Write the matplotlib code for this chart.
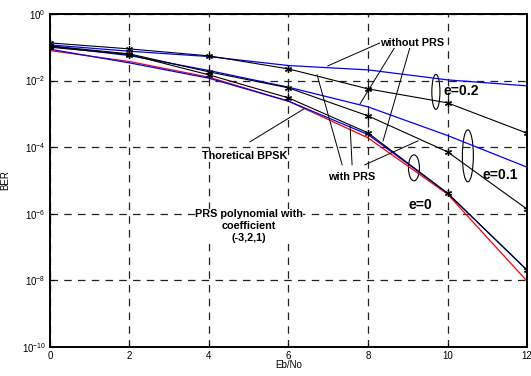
import matplotlib.pyplot as plt
from matplotlib.patches import Ellipse
import numpy as np

plt.rcParams['font.family'] = ['Liberation Sans', 'DejaVu Sans']
plt.rcParams['mathtext.fontset'] = 'custom'
plt.rcParams['mathtext.rm'] = 'Liberation Sans'
plt.rcParams['mathtext.default'] = 'regular'

# Eb/No (dB)
ebno = [0, 2, 4, 6, 8, 10, 12]

# log10(BER)
theory_bpsk = [-1.10, -1.43, -1.90, -2.62, -3.72, -5.41, -8.02]
no_prs_e0 = [-1.06, -1.47, -1.93, -2.62, -3.62, -5.38, -7.69]
no_prs_e01 = [-0.97, -1.25, -1.70, -2.20, -2.79, -3.65, -4.60]
no_prs_e02 = [-0.93, -1.12, -1.28, -1.55, -1.68, -1.98, -2.16]
prs_e0 = [-1.00, -1.22, -1.83, -2.52, -3.57, -5.38, -7.69]
prs_e01 = [-0.96, -1.20, -1.74, -2.22, -3.06, -4.14, -5.86]
prs_e02 = [-0.87, -1.05, -1.26, -1.65, -2.25, -2.67, -3.58]

fig = plt.figure(figsize=(5.31, 3.76), dpi=100)
ax = fig.add_axes([0.094, 0.077, 0.8985, 0.886])

def ber(v):
    return 10.0 ** np.array(v)

ax.plot(ebno, ber(theory_bpsk), color='red', lw=0.9)
for s in [no_prs_e0, no_prs_e01, no_prs_e02]:
    ax.plot(ebno, ber(s), color='blue', lw=0.9)
for s in [prs_e0, prs_e01, prs_e02]:
    ax.plot(ebno, ber(s), color='black', lw=0.8, marker=(6, 2, 0), ms=5, mew=0.9)

ax.set_yscale('log')
ax.set_xlim(0, 12)
ax.set_ylim(1e-10, 1)
ax.set_xticks(ebno)
yt = [1e-10, 1e-8, 1e-6, 1e-4, 1e-2, 1]
ax.set_yticks(yt)
ax.set_yticklabels([r'$10^{%d}$' % int(np.log10(v)) for v in yt])
ax.yaxis.set_minor_locator(plt.NullLocator())
ax.tick_params(direction='in', length=3, labelsize=7, pad=3)
ax.grid(True, color='#222222', linestyle=(0, (6, 5)), lw=0.9)
for sp in ax.spines.values():
    sp.set_linewidth(1.4)
ax.set_xlabel('Eb/No', fontsize=7, labelpad=-1)
ax.set_ylabel('BER', fontsize=7, labelpad=8)

# annotations
box = dict(facecolor='white', edgecolor='none', pad=0.3)
bold = dict(fontsize=7.8, fontweight='bold', ha='center', va='center')
ax.text(9.11, 10 ** -0.87, 'without PRS', bbox=box, **bold)
for (x0, y0), (x1, y1) in [((8.30, -0.87), (6.99, -1.56)),
                           ((8.68, -0.99), (7.80, -2.70)),
                           ((9.06, -0.99), (8.38, -3.81))]:
    ax.plot([x0, x1], [10 ** y0, 10 ** y1], color='black', lw=0.7)

ax.text(7.60, 10 ** -4.89, 'with PRS', bbox=box, **bold)
for (x0, y0), (x1, y1) in [((7.35, -4.53), (6.72, -1.83)),
                           ((7.60, -4.53), (7.55, -3.36)),
                           ((7.92, -4.53), (9.26, -3.81))]:
    ax.plot([x0, x1], [10 ** y0, 10 ** y1], color='black', lw=0.7)

ax.text(4.91, 10 ** -4.27, 'Thoretical BPSK', bbox=box, **bold)
ax.plot([5.03, 6.39], [10 ** -3.84, 10 ** -2.85], color='black', lw=0.7)

ax.text(5.01, 10 ** -6.37, 'PRS polynomial with\ncoefficient\n(-3,2,1)',
        linespacing=1.25, bbox=box, **bold)

ax.text(9.89, 10 ** -2.31, 'e=0.2', fontsize=10, fontweight='bold', va='center')
ax.text(10.89, 10 ** -4.83, 'e=0.1', fontsize=10, fontweight='bold', va='center')
ax.text(9.01, 10 ** -5.74, 'e=0', fontsize=10, fontweight='bold', va='center')

for cx, cy, w, h in [(0.809, 0.766, 0.017, 0.105),
                     (0.876, 0.574, 0.023, 0.156),
                     (0.763, 0.538, 0.023, 0.078)]:
    ax.add_patch(Ellipse((cx, cy), w, h, transform=ax.transAxes,
                         fill=False, ec='black', lw=0.8))

fig.savefig('out.png', dpi=100)
